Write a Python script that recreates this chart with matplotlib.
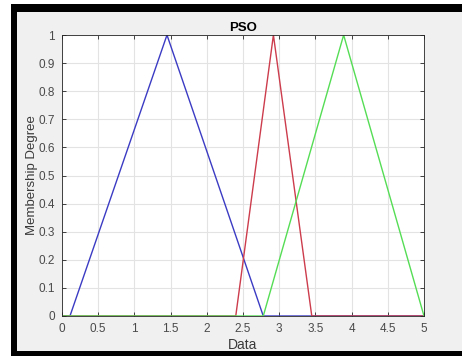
import numpy as np
import matplotlib
matplotlib.use('Agg')
import matplotlib.pyplot as plt
from matplotlib.patches import Rectangle

plt.rcParams['font.family'] = ['Liberation Sans', 'DejaVu Sans']

# triangular membership functions (a, peak, c)
x_data = [0, 5]
blue_pts = [0.11, 1.45, 2.78]
red_pts = [2.40, 2.92, 3.45]
green_pts = [2.78, 3.89, 5.0]
line_colors = ['#3b3bc4', '#cc3c4c', '#55dd55']

xticks = [0, 0.5, 1, 1.5, 2, 2.5, 3, 3.5, 4, 4.5, 5]
xtick_labels = ['0', '0.5', '1', '1.5', '2', '2.5', '3', '3.5', '4', '4.5', '5']
yticks = [0, 0.1, 0.2, 0.3, 0.4, 0.5, 0.6, 0.7, 0.8, 0.9, 1]
ytick_labels = ['0', '0.1', '0.2', '0.3', '0.4', '0.5', '0.6', '0.7', '0.8', '0.9', '1']

W, H = 462, 356
fig = plt.figure(figsize=(W / 100, H / 100), dpi=100, facecolor='white')

# gray panel with thick black frame (left/top/bottom)
fig.patches.append(Rectangle((11 / W, 0), (W - 11) / W + 0.05, (H - 4) / H,
                             transform=fig.transFigure, facecolor='black',
                             edgecolor='none', zorder=-2))
fig.patches.append(Rectangle((17 / W, (H - 351) / H), (W - 17) / W + 0.05, (351 - 12) / H,
                             transform=fig.transFigure, facecolor='#f0f0f0',
                             edgecolor='none', zorder=-1))

ax = fig.add_axes([62 / W, (H - 316) / H, (424 - 62) / W, (316 - 35) / H])


def tri(pts):
    a, b, c = pts
    xs = [x_data[0], a, b, c, x_data[1]]
    ys = [0, 0, 1, 0, 0]
    return xs, ys


for pts, col in zip([blue_pts, red_pts, green_pts], line_colors):
    xs, ys = tri(pts)
    ax.plot(xs, ys, color=col, lw=1.0, solid_joinstyle='miter')

ax.set_xlim(0, 5)
ax.set_ylim(0, 1)
ax.set_xticks(xticks)
ax.set_xticklabels(xtick_labels)
ax.set_yticks(yticks)
ax.set_yticklabels(ytick_labels)
ax.grid(True, color='#e3e3e3', lw=0.8)
ax.set_axisbelow(True)
ax.tick_params(direction='in', top=True, right=True, length=3, width=0.6,
               colors='#262626', labelsize=8.5, labelcolor='#4a4a4a')
ax.tick_params(axis='x', pad=5)
ax.tick_params(axis='y', pad=5)
for sp in ax.spines.values():
    sp.set_color('#262626')
    sp.set_linewidth(0.6)

ax.set_title('PSO', fontsize=9.5, fontweight='bold', pad=3)
ax.set_xlabel('Data', fontsize=10, color='#3a3a3a')
ax.set_ylabel('Membership Degree', fontsize=9.5, color='#3a3a3a')
ax.xaxis.set_label_coords(0.5, -0.103, transform=ax.transAxes)
ax.yaxis.set_label_coords(-0.083, 0.5, transform=ax.transAxes)
ax.xaxis.label.set_va('center')
ax.yaxis.label.set_va('center')

fig.savefig('out.png', dpi=100, facecolor=fig.get_facecolor())
